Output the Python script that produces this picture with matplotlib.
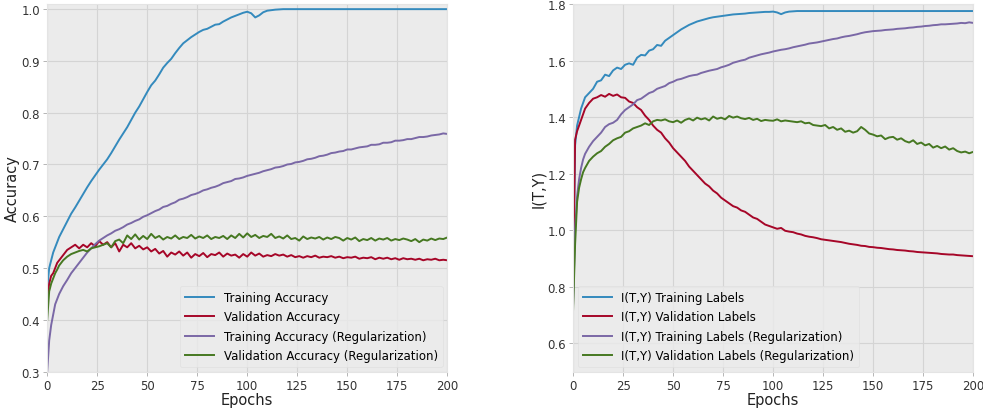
import numpy as np
import matplotlib
matplotlib.use("Agg")
from matplotlib import pyplot as plt

# Epochs: every epoch at the start, then every second epoch
epochs = np.r_[0:6, 6:201:2]

# Accuracy curves
acc_train = [
    0.46, 0.50, 0.515, 0.53, 0.54, 0.55,
    0.56, 0.575, 0.59, 0.605, 0.617, 0.63, 0.643, 0.656, 0.668, 0.679,
    0.69, 0.70, 0.71, 0.722, 0.735, 0.748, 0.76, 0.772, 0.786, 0.80,
    0.812, 0.826, 0.84, 0.853, 0.862, 0.874, 0.887, 0.896, 0.904, 0.915,
    0.925, 0.934, 0.94, 0.946, 0.951, 0.956, 0.96, 0.962, 0.966, 0.97,
    0.971, 0.976, 0.98, 0.984, 0.987, 0.99, 0.993, 0.995, 0.992, 0.984,
    0.988, 0.994, 0.997, 0.998, 0.999, 0.9995,
    1.0, 1.0, 1.0, 1.0, 1.0, 1.0, 1.0, 1.0, 1.0, 1.0,
    1.0, 1.0, 1.0, 1.0, 1.0, 1.0, 1.0, 1.0, 1.0, 1.0,
    1.0, 1.0, 1.0, 1.0, 1.0, 1.0, 1.0, 1.0, 1.0, 1.0,
    1.0, 1.0, 1.0, 1.0, 1.0, 1.0, 1.0, 1.0, 1.0, 1.0,
    1.0, 1.0,
]
acc_val = [
    0.44, 0.47, 0.485, 0.49, 0.50, 0.51,
    0.515, 0.525, 0.535, 0.54, 0.545, 0.538, 0.545, 0.54, 0.548, 0.542,
    0.552, 0.545, 0.55, 0.54, 0.548, 0.532, 0.545, 0.54, 0.548, 0.538,
    0.543, 0.536, 0.54, 0.532, 0.537, 0.528, 0.533, 0.522, 0.53, 0.526,
    0.532, 0.524, 0.53, 0.52, 0.527, 0.523, 0.529, 0.521, 0.527, 0.525,
    0.53, 0.522, 0.528, 0.524, 0.526, 0.52, 0.527, 0.522, 0.53, 0.524,
    0.528, 0.522, 0.525, 0.523, 0.527, 0.524, 0.526, 0.522, 0.525, 0.521,
    0.523, 0.52, 0.523, 0.521, 0.524, 0.52, 0.522, 0.521, 0.523, 0.52,
    0.522, 0.519, 0.521, 0.52, 0.522, 0.518, 0.52, 0.519, 0.521, 0.517,
    0.52, 0.518, 0.52, 0.517, 0.519, 0.516, 0.519, 0.517, 0.518, 0.516,
    0.518, 0.515, 0.517, 0.516, 0.518, 0.515, 0.516, 0.515,
]
acc_train_reg = [
    0.30, 0.36, 0.39, 0.41, 0.43, 0.44,
    0.45, 0.465, 0.477, 0.49, 0.50, 0.51, 0.52, 0.53, 0.538, 0.546,
    0.553, 0.558, 0.563, 0.567, 0.572, 0.575, 0.579, 0.584, 0.587, 0.591,
    0.594, 0.599, 0.602, 0.606, 0.61, 0.613, 0.618, 0.62, 0.624, 0.627,
    0.632, 0.634, 0.637, 0.641, 0.643, 0.646, 0.65, 0.652, 0.655, 0.657,
    0.66, 0.664, 0.666, 0.668, 0.672, 0.673, 0.675, 0.678, 0.68, 0.682,
    0.684, 0.687, 0.689, 0.691, 0.694, 0.695, 0.697, 0.70, 0.701, 0.704,
    0.705, 0.707, 0.71, 0.711, 0.713, 0.716, 0.717, 0.719, 0.722, 0.723,
    0.725, 0.726, 0.729, 0.729, 0.731, 0.733, 0.734, 0.735, 0.738, 0.738,
    0.739, 0.742, 0.742, 0.743, 0.746, 0.746, 0.747, 0.749, 0.749, 0.751,
    0.753, 0.753, 0.754, 0.756, 0.757, 0.758, 0.76, 0.759,
]
acc_val_reg = [
    0.40, 0.455, 0.47, 0.48, 0.49, 0.497,
    0.505, 0.515, 0.522, 0.527, 0.53, 0.533, 0.535, 0.532, 0.538, 0.54,
    0.542, 0.545, 0.548, 0.54, 0.552, 0.555, 0.548, 0.563, 0.556, 0.565,
    0.555, 0.562, 0.556, 0.566, 0.558, 0.562, 0.555, 0.56, 0.557, 0.563,
    0.556, 0.56, 0.558, 0.564, 0.557, 0.561, 0.558, 0.563, 0.556, 0.56,
    0.558, 0.562, 0.556, 0.563, 0.558, 0.566, 0.559, 0.567, 0.56, 0.564,
    0.558, 0.562, 0.56, 0.566, 0.558, 0.561, 0.557, 0.563, 0.556, 0.558,
    0.553, 0.561, 0.556, 0.559, 0.557, 0.56, 0.555, 0.559, 0.556, 0.56,
    0.558, 0.553, 0.558, 0.555, 0.559, 0.552, 0.556, 0.554, 0.558, 0.553,
    0.557, 0.555, 0.558, 0.553, 0.556, 0.554, 0.557, 0.555, 0.552, 0.556,
    0.55, 0.555, 0.553, 0.557, 0.554, 0.557, 0.556, 0.559,
]

# Mutual information I(T,Y) curves
mi_train = [
    0.78, 1.30, 1.37, 1.40, 1.43, 1.45,
    1.47, 1.485, 1.50, 1.525, 1.53, 1.55, 1.545, 1.565, 1.575, 1.57,
    1.585, 1.59, 1.585, 1.61, 1.62, 1.618, 1.635, 1.64, 1.655, 1.652,
    1.67, 1.68, 1.69, 1.70, 1.71, 1.718, 1.726, 1.732, 1.738, 1.742,
    1.746, 1.75, 1.753, 1.755, 1.757, 1.759, 1.761, 1.763, 1.764, 1.765,
    1.766, 1.768, 1.769, 1.77, 1.771, 1.772, 1.772, 1.773, 1.77, 1.764,
    1.77, 1.773, 1.774, 1.775,
    1.775, 1.775, 1.775, 1.775, 1.775, 1.775, 1.775, 1.775, 1.775, 1.775,
    1.775, 1.775, 1.775, 1.775, 1.775, 1.775, 1.775, 1.775, 1.775, 1.775,
    1.775, 1.775, 1.775, 1.775, 1.775, 1.775, 1.775, 1.775, 1.775, 1.775,
    1.775, 1.775, 1.775, 1.775, 1.775, 1.775, 1.775, 1.775, 1.775, 1.775,
    1.775, 1.775, 1.775, 1.775,
]
mi_val = [
    0.80, 1.32, 1.35, 1.37, 1.39, 1.41,
    1.43, 1.45, 1.465, 1.47, 1.478, 1.472, 1.482, 1.475, 1.48, 1.47,
    1.468, 1.455, 1.45, 1.435, 1.425, 1.405, 1.39, 1.37, 1.355, 1.345,
    1.325, 1.31, 1.29, 1.275, 1.26, 1.245, 1.225, 1.21, 1.195, 1.18,
    1.165, 1.155, 1.14, 1.13, 1.115, 1.105, 1.095, 1.085, 1.08, 1.07,
    1.065, 1.055, 1.045, 1.04, 1.03, 1.02, 1.015, 1.01, 1.005, 1.008,
    0.998, 0.995, 0.993, 0.988, 0.985, 0.98, 0.977, 0.975, 0.972, 0.968,
    0.966, 0.964, 0.962, 0.96, 0.958, 0.955, 0.952, 0.95, 0.948, 0.945,
    0.944, 0.941, 0.94, 0.938, 0.937, 0.935, 0.933, 0.932, 0.93, 0.929,
    0.928, 0.926, 0.925, 0.923, 0.922, 0.921, 0.92, 0.919, 0.918, 0.916,
    0.915, 0.914, 0.914, 0.912, 0.911, 0.91, 0.909, 0.908,
]
mi_train_reg = [
    0.74, 1.00, 1.12, 1.18, 1.22, 1.25,
    1.27, 1.295, 1.315, 1.33, 1.345, 1.365, 1.375, 1.38, 1.39, 1.41,
    1.425, 1.435, 1.445, 1.46, 1.465, 1.475, 1.485, 1.49, 1.50, 1.505,
    1.51, 1.52, 1.525, 1.532, 1.535, 1.54, 1.545, 1.548, 1.55, 1.556,
    1.56, 1.564, 1.567, 1.57, 1.576, 1.58, 1.585, 1.592, 1.596, 1.60,
    1.603, 1.61, 1.614, 1.618, 1.622, 1.625, 1.628, 1.632, 1.635, 1.638,
    1.64, 1.643, 1.647, 1.65, 1.653, 1.656, 1.66, 1.662, 1.664, 1.667,
    1.67, 1.673, 1.676, 1.678, 1.682, 1.685, 1.687, 1.69, 1.693, 1.697,
    1.70, 1.702, 1.704, 1.705, 1.706, 1.708, 1.709, 1.71, 1.712, 1.713,
    1.714, 1.716, 1.717, 1.719, 1.72, 1.722, 1.723, 1.725, 1.726, 1.728,
    1.728, 1.729, 1.73, 1.731, 1.733, 1.732, 1.735, 1.733,
]
mi_val_reg = [
    0.72, 0.95, 1.10, 1.15, 1.18, 1.205,
    1.22, 1.245, 1.26, 1.272, 1.28, 1.295, 1.305, 1.318, 1.325, 1.33,
    1.345, 1.35, 1.36, 1.365, 1.37, 1.378, 1.372, 1.385, 1.39, 1.388,
    1.392, 1.385, 1.382, 1.388, 1.38, 1.39, 1.395, 1.388, 1.398, 1.392,
    1.396, 1.388, 1.402, 1.394, 1.398, 1.392, 1.404, 1.398, 1.402, 1.396,
    1.393, 1.397, 1.39, 1.394, 1.386, 1.39, 1.388, 1.387, 1.392, 1.385,
    1.388, 1.386, 1.384, 1.382, 1.385, 1.378, 1.38, 1.372, 1.37, 1.368,
    1.372, 1.36, 1.365, 1.355, 1.36, 1.348, 1.352, 1.345, 1.35, 1.365,
    1.355, 1.342, 1.338, 1.332, 1.335, 1.322, 1.328, 1.33, 1.32, 1.325,
    1.315, 1.31, 1.318, 1.305, 1.31, 1.30, 1.305, 1.292, 1.298, 1.29,
    1.296, 1.285, 1.29, 1.28, 1.275, 1.278, 1.272, 1.277,
]

acc_labels = [
    "Training Accuracy",
    "Validation Accuracy",
    "Training Accuracy (Regularization)",
    "Validation Accuracy (Regularization)",
]
mi_labels = [
    "I(T,Y) Training Labels",
    "I(T,Y) Validation Labels",
    "I(T,Y) Training Labels (Regularization)",
    "I(T,Y) Validation Labels (Regularization)",
]
epoch_ticks = [0, 25, 50, 75, 100, 125, 150, 175, 200]
acc_ticks = [0.3, 0.4, 0.5, 0.6, 0.7, 0.8, 0.9, 1.0]
mi_ticks = [0.6, 0.8, 1.0, 1.2, 1.4, 1.6, 1.8]

plt.style.use("bmh")
plt.rcParams["font.family"] = ["DejaVu Sans"]
colors = ["#348ABD", "#A60628", "#7A68A6", "#467821"]

fig = plt.figure(figsize=(9.83, 4.14), dpi=100)
ax1 = fig.add_axes([0.048, 0.1, 0.407, 0.888])
ax2 = fig.add_axes([0.583, 0.1, 0.407, 0.888])


def style_axes(ax):
    ax.set_facecolor("#ebebeb")
    ax.grid(True, color="#d4d4d4", linestyle="-", linewidth=0.8)
    ax.set_axisbelow(True)
    for s in ax.spines.values():
        s.set_color("#e4e4e4")
        s.set_linewidth(0.8)
    ax.tick_params(direction="out", length=3, width=0.6, color="#aaaaaa",
                   labelsize=8.5, labelcolor="#333333", pad=2)
    ax.set_xlim(0, 200)
    ax.set_xticks(epoch_ticks)
    ax.set_xlabel("Epochs", fontsize=10.5, color="#222222", labelpad=0)


def style_legend(leg):
    leg.get_frame().set_facecolor("#ebebeb")
    leg.get_frame().set_edgecolor("#dddddd")


legend_kw = dict(fontsize=8.5, handlelength=2.5, frameon=True,
                 borderaxespad=0.4, labelspacing=0.55)

for series, lab, col in zip([acc_train, acc_val, acc_train_reg, acc_val_reg], acc_labels, colors):
    ax1.plot(epochs, series, color=col, linewidth=1.4, label=lab)
style_axes(ax1)
ax1.set_ylim(0.3, 1.01)
ax1.set_yticks(acc_ticks)
ax1.set_ylabel("Accuracy", fontsize=10.5, color="#222222", labelpad=1)
style_legend(ax1.legend(loc="lower right", **legend_kw))

for series, lab, col in zip([mi_train, mi_val, mi_train_reg, mi_val_reg], mi_labels, colors):
    ax2.plot(epochs, series, color=col, linewidth=1.4, label=lab)
style_axes(ax2)
ax2.set_ylim(0.5, 1.8)
ax2.set_yticks(mi_ticks)
ax2.set_ylabel("I(T,Y)", fontsize=10.5, color="#222222", labelpad=1)
style_legend(ax2.legend(loc="lower left", **legend_kw))

fig.savefig("out.png", dpi=100)
